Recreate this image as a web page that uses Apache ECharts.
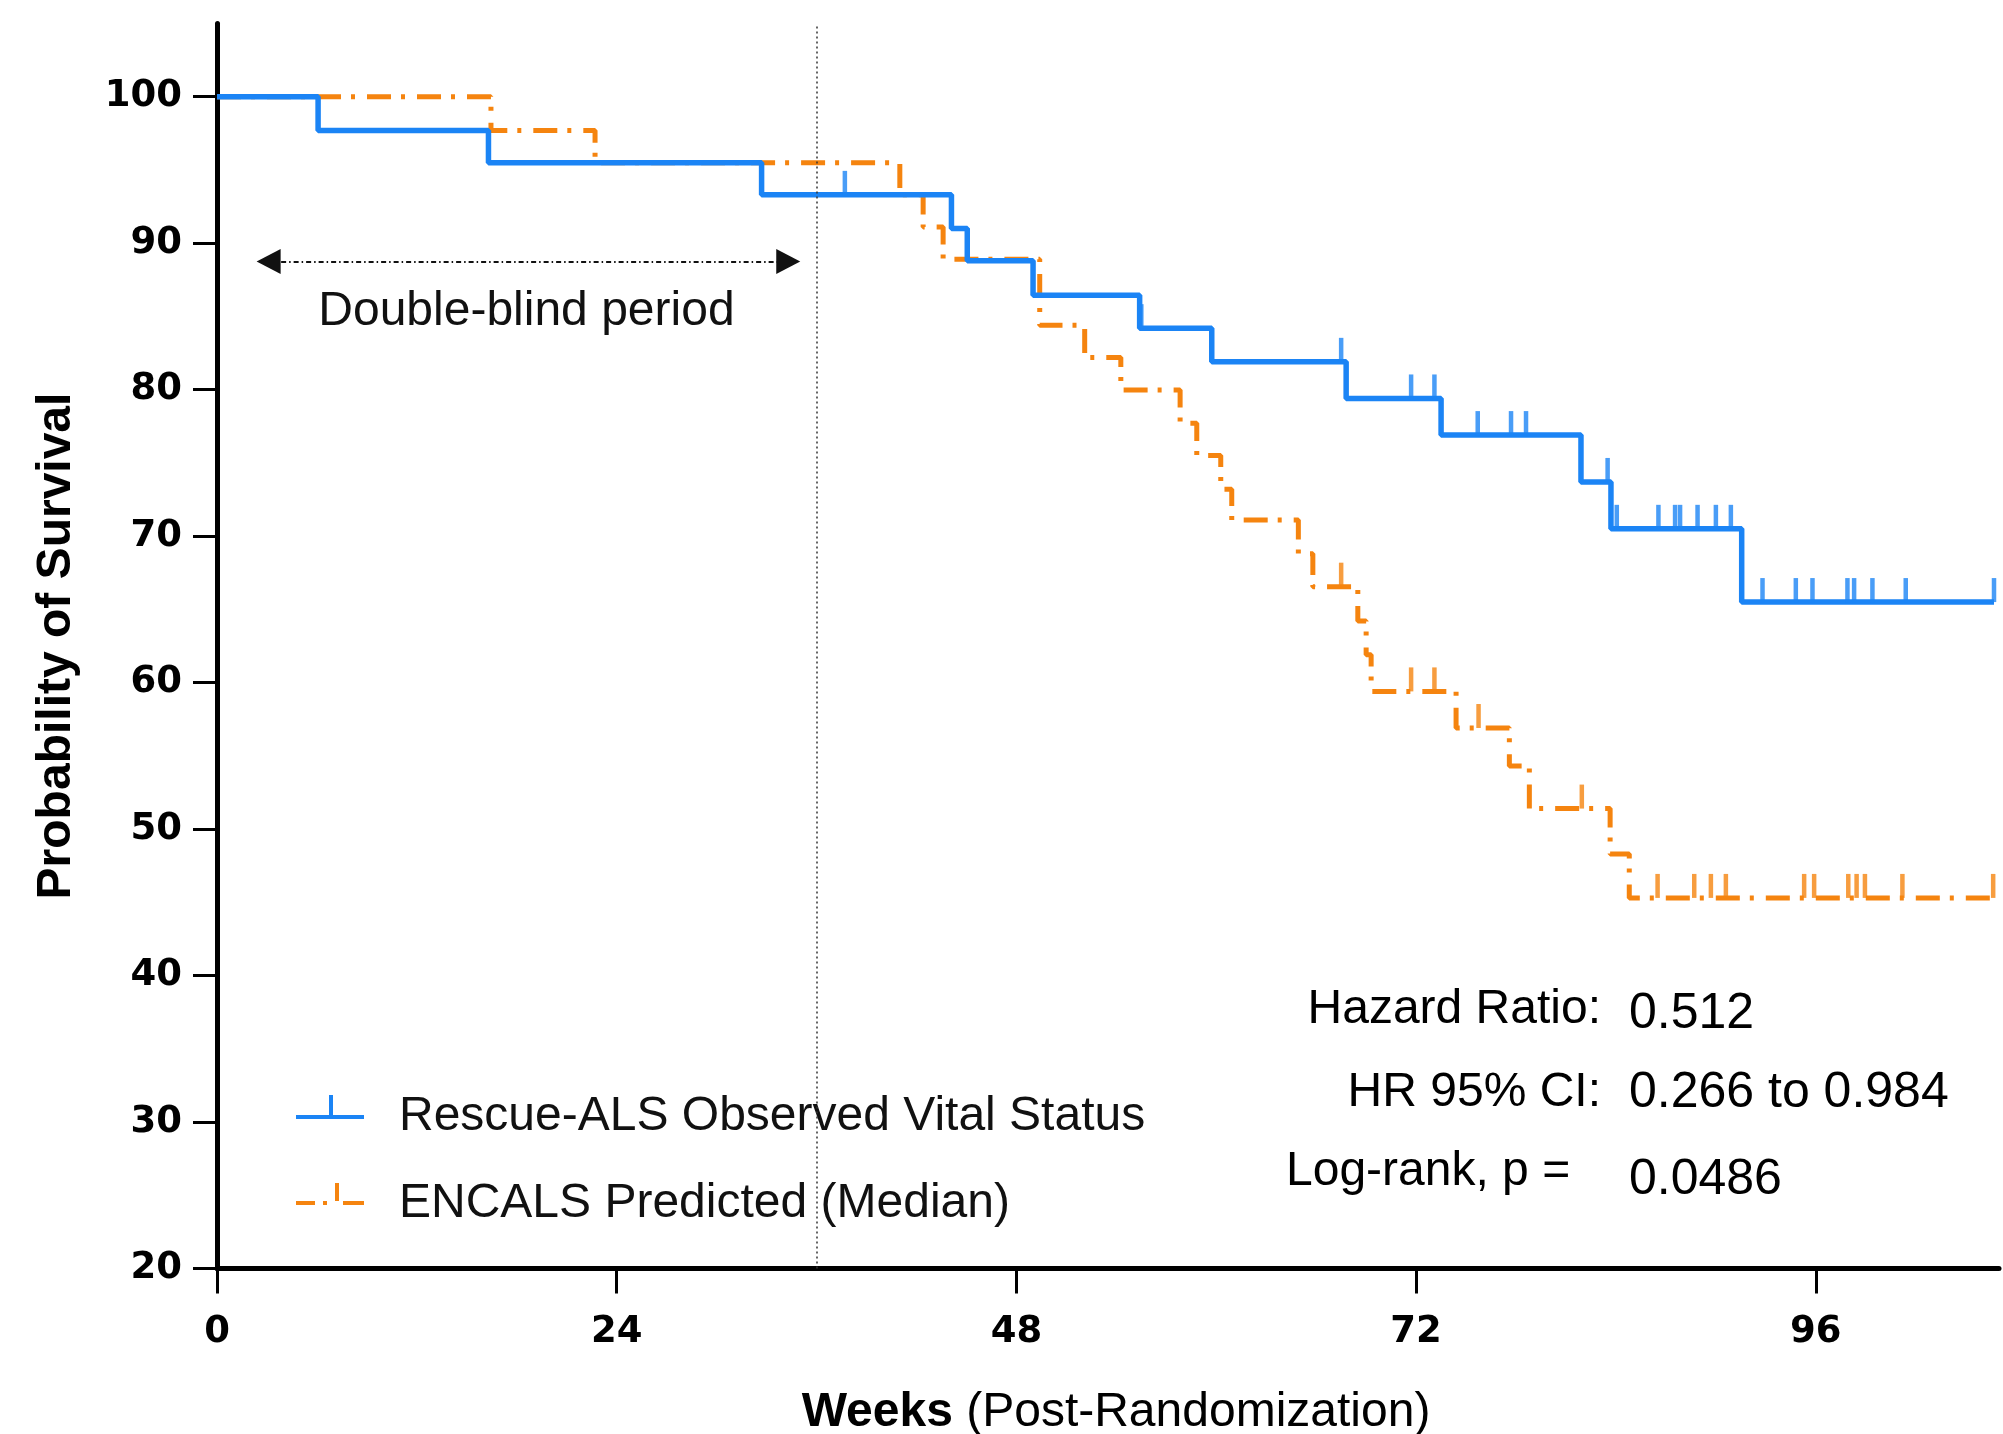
<!DOCTYPE html>
<html><head><meta charset="utf-8">
<script src="https://cdn.jsdelivr.net/npm/echarts@6/dist/echarts.min.js"></script>
<style>html,body{margin:0;padding:0;background:#fff;}#c{width:2003px;height:1434px;}</style>
</head><body><div id="c"></div>
<script>
// ---- data ----
const blueName = 'Rescue-ALS Observed Vital Status';
const orangeName = 'ENCALS Predicted (Median)';
const blueTimes = [0, 6.07, 16.3, 32.7, 44.1, 45.05, 49.0, 55.4, 59.73, 67.8, 73.5, 81.9, 83.7, 91.55, 106.7];
const blueSurv  = [100, 97.7, 95.5, 93.3, 91.0, 88.8, 86.45, 84.2, 81.9, 79.4, 76.9, 73.7, 70.5, 65.5, 65.5];
const blueCensorTimes = [37.7, 55.5, 67.5, 71.7, 73.1, 75.7, 77.7, 78.6, 83.5, 84.05, 86.55, 87.55, 87.85, 88.9, 90.0, 90.9, 92.8, 94.8, 95.8, 97.9, 98.3, 99.4, 101.4, 106.7];
const blueCensorSurv  = [93.3, 84.2, 81.9, 79.4, 79.4, 76.9, 76.9, 76.9, 73.7, 70.5, 70.5, 70.5, 70.5, 70.5, 70.5, 70.5, 65.5, 65.5, 65.5, 65.5, 65.5, 65.5, 65.5, 65.5];
const orangeTimes = [0, 16.45, 22.7, 41.0, 42.4, 43.6, 49.4, 52.1, 54.27, 57.83, 58.83, 60.27, 60.93, 64.93, 65.8, 68.5, 69.0, 69.3, 74.4, 77.6, 78.8, 83.65, 84.8, 106.65];
const orangeSurv  = [100, 97.7, 95.5, 93.3, 91.1, 88.9, 84.4, 82.2, 79.97, 77.7, 75.5, 73.2, 71.1, 68.8, 66.55, 64.2, 61.9, 59.4, 56.9, 54.3, 51.4, 48.3, 45.3, 45.3];
const orangeCensorTimes = [67.5, 71.7, 73.1, 75.75, 81.95, 86.5, 88.7, 89.7, 90.6, 95.3, 95.9, 97.95, 98.45, 98.95, 101.2, 106.65];
const orangeCensorSurv  = [66.55, 59.4, 59.4, 56.9, 51.4, 45.3, 45.3, 45.3, 45.3, 45.3, 45.3, 45.3, 45.3, 45.3, 45.3, 45.3];
const xTicks = [0, 24, 48, 72, 96];
const yTicks = [20, 30, 40, 50, 60, 70, 80, 90, 100];
const blindEnd = 36;            // dotted vertical line (week)
const arrowFrom = [3.1, 88.75]; // double-blind arrow
const arrowTo = [34.3, 88.75];
const blindLabelPos = [18.58, 85.3];
const statLabels = ['Hazard Ratio:', 'HR 95% CI:', 'Log-rank, p ='];
const statValues = ['0.512', '0.266 to 0.984', '0.0486'];

const zip = (a, b) => a.map((v, i) => [v, b[i]]);
const BLUE = '#1b84f5', ORANGE = '#f5840f';
const SANS = '"Liberation Sans", Arial, Helvetica, sans-serif';
const chart = echarts.init(document.getElementById('c'), null, {renderer: 'canvas'});

const option = {
  backgroundColor: '#ffffff',
  animation: false,
  grid: {left: 217, right: 4, top: 23.5, bottom: 165.5, containLabel: false, outerBoundsMode: 'none'},
  legend: {
    data: [
      {name: blueName, icon: 'path://M0,20H68V24H0Z M33,0H37V20H33Z M34,44H34.01V44.01H34Z'},
      {name: orangeName, icon: 'path://M0,20H19V24H0Z M27,20H31V24H27Z M39,2H43V20H39Z M47,20H68V24H47Z M34,44H34.01V44.01H34Z'}
    ],
    orient: 'vertical', left: 291, top: 1088,
    itemWidth: 68, itemHeight: 44, itemGap: 39,
    selectedMode: false,
    itemStyle: {borderWidth: 0},
    textStyle: {fontSize: 48, fontFamily: SANS, color: '#111', lineHeight: 44, padding: [0, 0, 0, 30]}
  },
  xAxis: {
    type: 'value', min: 0, max: 107, interval: 24,
    axisLine: {onZero: false, lineStyle: {color: '#000', width: 5}},
    axisTick: {show: true, length: 25, lineStyle: {color: '#000', width: 3}, customValues: xTicks},
    axisLabel: {customValues: xTicks, margin: 45, fontSize: 37, fontWeight: 'bold', fontFamily: '"DejaVu Sans", sans-serif', color: '#000'},
    splitLine: {show: false},
    name: '{b|Weeks} (Post-Randomization)',
    nameLocation: 'middle', nameGap: 120,
    nameTextStyle: {fontSize: 48, fontFamily: SANS, color: '#000', padding: [0, 0, 0, 16],
      rich: {b: {fontSize: 48, fontFamily: SANS, fontWeight: 'bold', color: '#000'}}}
  },
  yAxis: {
    type: 'value', min: 20, max: 105, interval: 10,
    axisLine: {show: true, onZero: false, lineStyle: {color: '#000', width: 5}},
    axisTick: {show: true, length: 24, lineStyle: {color: '#000', width: 3}, customValues: yTicks},
    axisLabel: {customValues: yTicks, margin: 35, fontSize: 37, fontWeight: 'bold', fontFamily: '"DejaVu Sans", sans-serif', color: '#000'},
    splitLine: {show: false},
    name: 'Probability of Survival',
    nameLocation: 'middle', nameGap: 136,
    nameTextStyle: {fontSize: 48, fontWeight: 'bold', fontFamily: SANS, color: '#000'}
  },
  series: [
    {
      name: orangeName, type: 'line', step: 'end', silent: true,
      data: zip(orangeTimes, orangeSurv), showSymbol: false, symbol: 'none', color: ORANGE, z: 2,
      lineStyle: {color: ORANGE, width: 5, type: [24, 10, 4, 12], cap: 'butt'},
      markLine: {
        silent: true, symbol: ['none', 'none'], label: {show: false},
        data: [
          {xAxis: blindEnd, lineStyle: {type: [2, 3], color: '#333', width: 1.5}},
          [
            {coord: arrowFrom, symbol: 'triangle', symbolSize: [25, 24], lineStyle: {type: [5, 3, 1.5, 3], color: '#111', width: 1.8}, itemStyle: {color: '#000'}},
            {coord: arrowTo, symbol: 'triangle', symbolSize: [25, 24], itemStyle: {color: '#000'}}
          ]
        ]
      },
      markPoint: {
        silent: true,
        data: [{coord: blindLabelPos, symbol: 'circle', symbolSize: 1, itemStyle: {color: 'rgba(0,0,0,0)'},
          label: {show: true, position: 'inside', formatter: 'Double-blind period', fontSize: 48, fontFamily: SANS, color: '#111'}}]
      }
    },
    {
      name: blueName, type: 'line', step: 'end', silent: true,
      data: zip(blueTimes, blueSurv), showSymbol: false, symbol: 'none', color: BLUE, z: 3,
      lineStyle: {color: BLUE, width: 5.5}
    },
    {
      name: 'orangeCensor', type: 'scatter', silent: true, z: 2,
      data: zip(orangeCensorTimes, orangeCensorSurv),
      symbol: 'rect', symbolSize: [4.5, 24], symbolOffset: [0, -12], itemStyle: {color: ORANGE}
    },
    {
      name: 'blueCensor', type: 'scatter', silent: true, z: 3,
      data: zip(blueCensorTimes, blueCensorSurv),
      symbol: 'rect', symbolSize: [4.5, 24], symbolOffset: [0, -12], itemStyle: {color: BLUE}
    }
  ],
  graphic: [
    {type: 'text', x: 1601, y: 1009.5, style: {text: statLabels[0], align: 'right', verticalAlign: 'middle', fontSize: 48, fontFamily: SANS, fill: '#000'}},
    {type: 'text', x: 1629, y: 1014.5, style: {text: statValues[0], align: 'left', verticalAlign: 'middle', fontSize: 50, fontFamily: SANS, fill: '#000'}},
    {type: 'text', x: 1601, y: 1093, style: {text: statLabels[1], align: 'right', verticalAlign: 'middle', fontSize: 48, fontFamily: SANS, fill: '#000'}},
    {type: 'text', x: 1629, y: 1093, style: {text: statValues[1], align: 'left', verticalAlign: 'middle', fontSize: 50, fontFamily: SANS, fill: '#000'}},
    {type: 'text', x: 1286, y: 1172, style: {text: statLabels[2], align: 'left', verticalAlign: 'middle', fontSize: 48, fontFamily: SANS, fill: '#000'}},
    {type: 'text', x: 1629, y: 1180, style: {text: statValues[2], align: 'left', verticalAlign: 'middle', fontSize: 50, fontFamily: SANS, fill: '#000'}}
  ]
};
chart.setOption(option);
</script>
</body></html>
